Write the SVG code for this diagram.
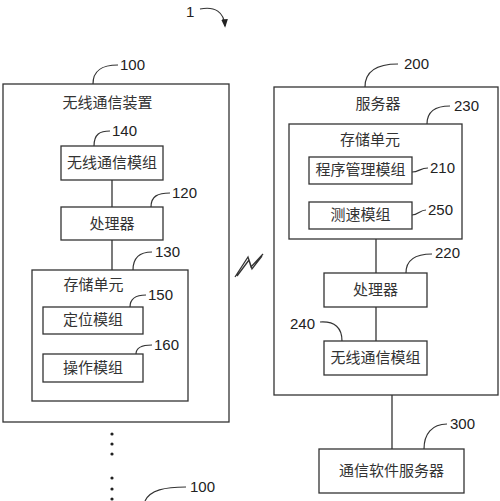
<svg xmlns="http://www.w3.org/2000/svg" width="500" height="501" viewBox="0 0 500 501">
<style>
.box{fill:none;stroke:#333;stroke-width:1.3}
.ln{fill:none;stroke:#333;stroke-width:1.3}
.ld{fill:none;stroke:#333;stroke-width:1.2}
.t{font-family:"Noto Sans CJK SC","Noto Sans",sans-serif;font-size:15px;fill:#333;text-anchor:middle}
.n{font-family:"Liberation Sans",Arial,sans-serif;font-size:15px;fill:#222}
</style>
<defs>
<marker id="ah" viewBox="0 0 10 10" refX="8" refY="5" markerWidth="7" markerHeight="7" orient="auto">
<path d="M0,1 L10,5 L0,9 Z" fill="#222"/>
</marker>
</defs>
<rect width="500" height="501" fill="#fff"/>
<g id="title">
<text class="n" x="186" y="17">1</text>
<path class="ld" d="M200,9 C215,6 224,12 225,26" marker-end="url(#ah)"/>
</g>
<g id="n100">
<rect class="box" x="3" y="84" width="226" height="338"/>
<text class="t" x="107.5" y="108">无线通信装置</text>
<path class="ld" d="M93,84 C93,70 102,65 118,65"/>
<text class="n" x="120" y="70">100</text>
</g>
<g id="n140">
<rect class="box" x="61" y="146" width="102" height="34"/>
<text class="t" x="112" y="168">无线通信模组</text>
<path class="ld" d="M94,146 C94,134 100,131 110,131"/>
<text class="n" x="112" y="136">140</text>
</g>
<g id="n120">
<rect class="box" x="61" y="207" width="102" height="33"/>
<text class="t" x="112" y="229">处理器</text>
<path class="ld" d="M151,207 C151,196 158,193 170,193"/>
<text class="n" x="172" y="198">120</text>
</g>
<g id="n130">
<rect class="box" x="32" y="270" width="156" height="131"/>
<text class="t" x="93.5" y="290">存储单元</text>
<path class="ld" d="M133,270 C133,258 140,252 152,252"/>
<text class="n" x="155" y="257">130</text>
</g>
<g id="n150">
<rect class="box" x="43" y="307" width="100" height="27"/>
<text class="t" x="93" y="325">定位模组</text>
<path class="ld" d="M130,307 C130,298 136,295 146,295"/>
<text class="n" x="148" y="300">150</text>
</g>
<g id="n160">
<rect class="box" x="43" y="354" width="100" height="28"/>
<text class="t" x="93" y="373">操作模组</text>
<path class="ld" d="M136,354 C136,348 142,345 152,345"/>
<text class="n" x="154" y="350">160</text>
</g>
<g id="n200">
<rect class="box" x="274" y="87" width="224" height="308"/>
<text class="t" x="378" y="109">服务器</text>
<path class="ld" d="M365,87 C365,72 375,64 398,64"/>
<text class="n" x="404" y="69">200</text>
</g>
<g id="n230">
<rect class="box" x="289" y="124" width="173" height="115"/>
<text class="t" x="370" y="145">存储单元</text>
<path class="ld" d="M427,124 C427,112 435,106 450,106"/>
<text class="n" x="454" y="111">230</text>
</g>
<g id="n210">
<rect class="box" x="309" y="157" width="103" height="27"/>
<text class="t" x="360.5" y="175">程序管理模组</text>
<path class="ld" d="M412,172 C419,172 420,168 428,168"/>
<text class="n" x="430" y="173">210</text>
</g>
<g id="n250">
<rect class="box" x="309" y="202" width="103" height="27"/>
<text class="t" x="360.5" y="220">测速模组</text>
<path class="ld" d="M412,215 C418,215 420,210 426,210"/>
<text class="n" x="428" y="215">250</text>
</g>
<g id="n220">
<rect class="box" x="324" y="273" width="103" height="34"/>
<text class="t" x="375.5" y="295">处理器</text>
<path class="ld" d="M406,273 C406,261 414,254 432,254"/>
<text class="n" x="435" y="258">220</text>
</g>
<g id="n240">
<rect class="box" x="324" y="341" width="103" height="34"/>
<text class="t" x="375.5" y="363">无线通信模组</text>
<path class="ld" d="M320,322 C335,321 342,328 342,341"/>
<text class="n" x="290" y="329">240</text>
</g>
<g id="n300">
<rect class="box" x="319" y="449" width="145" height="44"/>
<text class="t" x="391.5" y="476">通信软件服务器</text>
<path class="ld" d="M424,449 C424,434 432,424 447,424"/>
<text class="n" x="450" y="429">300</text>
</g>
<g id="n100b">
<path class="ld" d="M145,501 C150,490 165,487 186,487"/>
<text class="n" x="190" y="492">100</text>
</g>
<g id="connectors">
<line class="ln" x1="112" y1="180" x2="112" y2="207"/>
<line class="ln" x1="112" y1="240" x2="112" y2="270"/>
<line class="ln" x1="376" y1="239" x2="376" y2="273"/>
<line class="ln" x1="376" y1="307" x2="376" y2="341"/>
<line class="ln" x1="392" y1="395" x2="392" y2="449"/>
<path class="ln" d="M235,277 L248,257 L251,267 L263,254 M237,276 L249,260 L252,269 L262,256" stroke-width="1"/>
<g fill="#222">
<circle cx="112" cy="434" r="1.6"/>
<circle cx="112" cy="444" r="1.6"/>
<circle cx="112" cy="454" r="1.6"/>
<circle cx="112" cy="478" r="1.6"/>
<circle cx="112" cy="489" r="1.6"/>
<circle cx="112" cy="499" r="1.6"/>
</g>
</g>
</svg>
